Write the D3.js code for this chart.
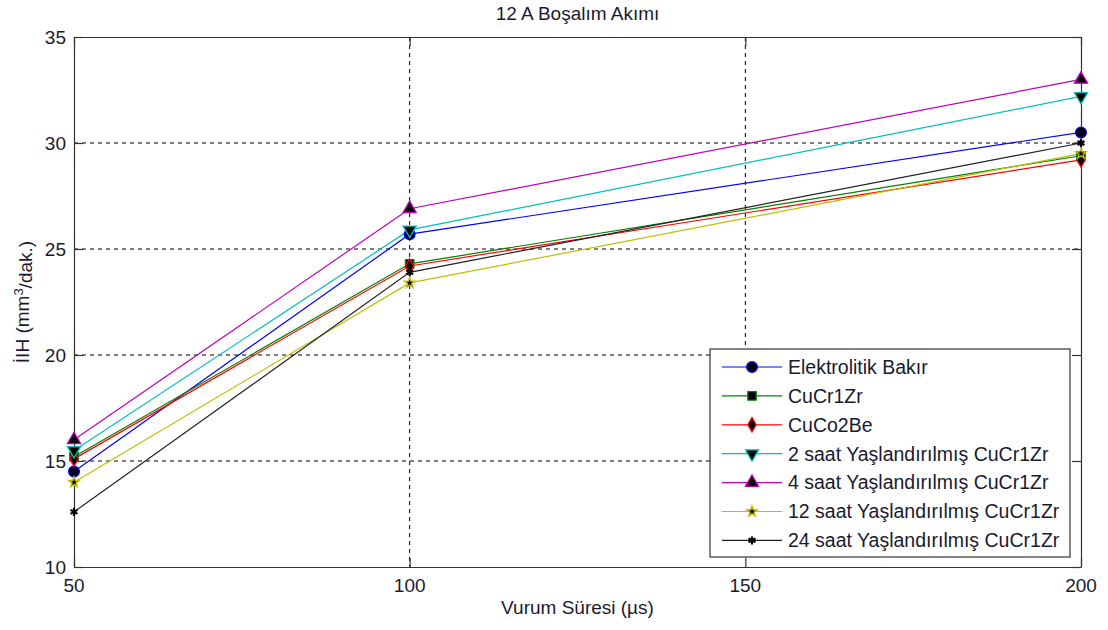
<!DOCTYPE html>
<html lang="tr">
  <head>
    <meta charset="utf-8">
    <title>12 A Boşalım Akımı</title>
    <script src="https://d3js.org/d3.v7.js"></script>
    <style>
      body { margin: 0; background: white; }
      text { font-family: "Liberation Sans", Arial, sans-serif; fill: #1a1a2e; }
    </style>
  </head>
  <body>
    <script>
      // data
      const pulses = [50, 100, 200];
      const seriesNames = ["Elektrolitik Bakır", "CuCr1Zr", "CuCo2Be",
                           "2 saat Yaşlandırılmış CuCr1Zr", "4 saat Yaşlandırılmış CuCr1Zr",
                           "12 saat Yaşlandırılmış CuCr1Zr", "24 saat Yaşlandırılmış CuCr1Zr"];
      const elektrolitik = [14.5, 25.7, 30.5];
      const cucr1zr = [15.2, 24.3, 29.4];
      const cuco2be = [15.1, 24.2, 29.2];
      const saat2 = [15.5, 25.9, 32.2];
      const saat4 = [16.0, 26.9, 33.0];
      const saat12 = [14.0, 23.4, 29.5];
      const saat24 = [12.6, 23.9, 30.0];
      const xTicks = [50, 100, 150, 200];
      const yTicks = [10, 15, 20, 25, 30, 35];

      const allValues = [elektrolitik, cucr1zr, cuco2be, saat2, saat4, saat12, saat24];
      const colors = ["#0000ff", "#008000", "#ff0000", "#00bfbf", "#bf00bf", "#bfbf00", "#222222"];
      const symbols = [d3.symbolCircle, d3.symbolSquare, d3.symbolDiamond, "down",
                       d3.symbolTriangle, d3.symbolStar, d3.symbolAsterisk];
      const symSizes = [90, 70, 60, 75, 75, 35, 45];

      const w = 1108, h = 630;
      const margin = {top: 37, right: 27, bottom: 63, left: 74};
      const innerWidth = w - margin.left - margin.right;
      const innerHeight = h - margin.top - margin.bottom;

      // legend box (page coordinates)
      const legend = {x: 710, y: 349, width: 360, height: 208};

      const xScale = d3.scaleLinear().domain([50, 200]).range([0, innerWidth]);
      const yScale = d3.scaleLinear().domain([10, 35]).range([innerHeight, 0]);

      const svg = d3.select("body").append("svg")
                    .attr("width", w)
                    .attr("height", h);

      svg.append("rect").attr("width", w).attr("height", h).attr("fill", "white");

      const g = svg.append("g")
                   .attr("transform", `translate(${margin.left},${margin.top})`);

      // legend box in plot coordinates, so grid lines stop at it
      const lgLeft = legend.x - margin.left, lgTop = legend.y - margin.top;
      const lgRight = lgLeft + legend.width, lgBottom = lgTop + legend.height;

      // dashed grid
      g.append("g")
       .selectAll("line")
       .data(yTicks.slice(1, -1))
       .enter().append("line")
       .attr("x1", 0)
       .attr("x2", d => (yScale(d) > lgTop && yScale(d) < lgBottom) ? lgLeft : innerWidth)
       .attr("y1", d => yScale(d)).attr("y2", d => yScale(d))
       .attr("stroke", "#000").attr("stroke-dasharray", "4,4");

      g.append("g")
       .selectAll("line")
       .data(xTicks.slice(1, -1))
       .enter().append("line")
       .attr("y1", 0)
       .attr("y2", d => (xScale(d) > lgLeft && xScale(d) < lgRight) ? lgTop : innerHeight)
       .attr("x1", d => xScale(d)).attr("x2", d => xScale(d))
       .attr("stroke", "#000").attr("stroke-dasharray", "4,4");

      // axes box with inward ticks on all four sides
      const axisColor = "#333";
      g.append("g").attr("transform", `translate(0,${innerHeight})`)
       .call(d3.axisBottom(xScale).tickValues(xTicks).tickSizeInner(-9).tickSizeOuter(0).tickFormat(""));
      g.append("g")
       .call(d3.axisLeft(yScale).tickValues(yTicks).tickSizeInner(-9).tickSizeOuter(0).tickFormat(""));
      g.append("g")
       .call(d3.axisTop(xScale).tickValues(xTicks).tickSizeInner(-9).tickSizeOuter(0).tickFormat(""));
      g.append("g").attr("transform", `translate(${innerWidth},0)`)
       .call(d3.axisRight(yScale).tickValues(yTicks).tickSizeInner(-9).tickSizeOuter(0).tickFormat(""));
      g.selectAll(".domain, .tick line").attr("stroke", axisColor).attr("stroke-width", 1.2);

      // tick labels
      g.append("g").selectAll("text")
       .data(xTicks)
       .enter().append("text")
       .attr("x", d => xScale(d))
       .attr("y", innerHeight + 25)
       .attr("text-anchor", "middle")
       .style("font-size", "19px")
       .text(d => d);

      g.append("g").selectAll("text")
       .data(yTicks)
       .enter().append("text")
       .attr("x", -8)
       .attr("y", d => yScale(d))
       .attr("dy", "0.35em")
       .attr("text-anchor", "end")
       .style("font-size", "19px")
       .text(d => d);

      // lines + markers
      const line = d3.line().x((d, i) => xScale(pulses[i])).y(d => yScale(d));

      function drawMarker(sel, k) {
        const s = symbols[k];
        if (s === "down") {
          sel.attr("d", d3.symbol(d3.symbolTriangle, symSizes[k])())
             .attr("transform", function() { return d3.select(this).attr("transform") + " rotate(180)"; });
        } else {
          sel.attr("d", d3.symbol(s, symSizes[k])());
        }
        sel.attr("fill", "#000").attr("stroke", colors[k]).attr("stroke-width", 1.3);
        if (s === d3.symbolAsterisk) sel.attr("stroke", "#000").attr("stroke-width", 2.2);
      }

      allValues.forEach((vals, k) => {
        g.append("path")
         .datum(vals)
         .attr("d", line)
         .attr("fill", "none")
         .attr("stroke", colors[k])
         .attr("stroke-width", 1.2);
      });
      allValues.forEach((vals, k) => {
        g.append("g").selectAll("path")
         .data(vals)
         .enter().append("path")
         .attr("transform", (d, i) => `translate(${xScale(pulses[i])},${yScale(d)})`)
         .call(drawMarker, k);
      });

      // title and axis labels
      svg.append("text")
         .attr("x", margin.left + innerWidth / 2).attr("y", 20)
         .attr("text-anchor", "middle")
         .style("font-size", "19px")
         .text("12 A Boşalım Akımı");

      svg.append("text")
         .attr("x", margin.left + innerWidth / 2).attr("y", 614)
         .attr("text-anchor", "middle")
         .style("font-size", "19px")
         .text("Vurum Süresi (µs)");

      const yl = svg.append("text")
         .attr("transform", `translate(29,${margin.top + innerHeight / 2}) rotate(-90)`)
         .attr("text-anchor", "middle")
         .style("font-size", "19px");
      yl.append("tspan").text("İIH (mm");
      yl.append("tspan").attr("dy", "-0.45em").style("font-size", "13px").text("3");
      yl.append("tspan").attr("dy", "0.45em").text("/dak.)");

      // legend
      const lg = svg.append("g").attr("transform", `translate(${legend.x},${legend.y})`);
      lg.append("rect")
        .attr("width", legend.width).attr("height", legend.height)
        .attr("fill", "white").attr("stroke", axisColor).attr("stroke-width", 1.2);

      seriesNames.forEach((name, k) => {
        const yy = 18 + k * 28.9;
        lg.append("line")
          .attr("x1", 12).attr("x2", 72).attr("y1", yy).attr("y2", yy)
          .attr("stroke", colors[k]).attr("stroke-width", 1.2);
        lg.append("path")
          .attr("transform", `translate(42,${yy})`)
          .call(drawMarker, k);
        lg.append("text")
          .attr("x", 78).attr("y", yy).attr("dy", "0.35em")
          .style("font-size", "19.5px")
          .text(name);
      });
    </script>
  </body>
</html>
